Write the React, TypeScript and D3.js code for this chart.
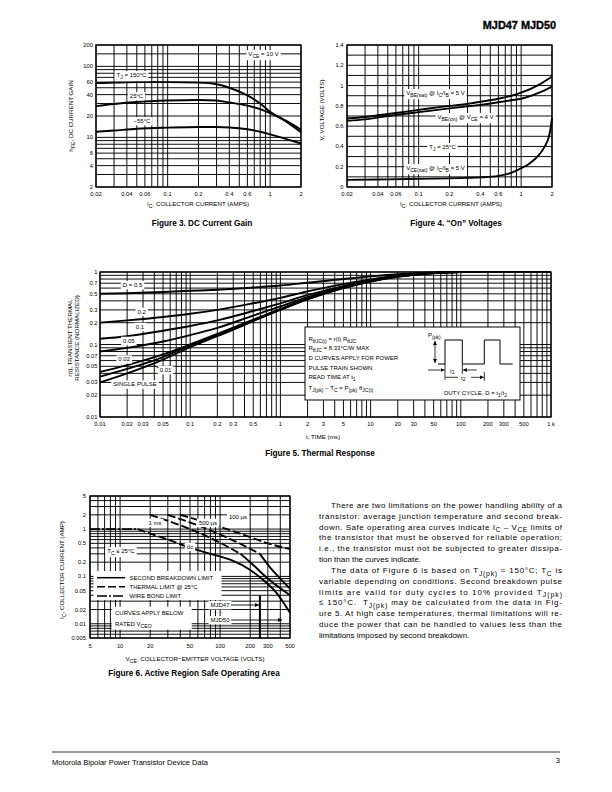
import React from 'react';
import * as d3 from 'd3';

const FONT = "'Liberation Sans', Arial, Helvetica, sans-serif";

// ---------- Figure 3: DC current gain ----------
const fig3Ic = [0.02, 0.03, 0.05, 0.1, 0.2, 0.3, 0.4, 0.6, 0.8, 1, 1.5, 2];
const fig3Gain150 = [58, 59, 60, 60, 59, 56, 50, 39, 30, 23, 16, 11.8];
const fig3Gain25 = [27.6, 29.5, 31.5, 33, 33.6, 33, 31, 28, 25, 22, 16.5, 12.8];
const fig3GainM55 = [12, 12.5, 13.2, 13.7, 14, 14, 13.8, 13, 12, 11, 9.3, 8.2];
const fig3XTicks = [0.02, 0.04, 0.06, 0.1, 0.2, 0.4, 0.6, 1, 2];
const fig3YTicks = [2, 4, 6, 10, 20, 40, 60, 100, 200];

// ---------- Figure 4: "On" voltages ----------
const fig4Ic = [0.02, 0.03, 0.05, 0.1, 0.2, 0.3, 0.4, 0.6, 0.8, 1, 1.5, 2];
const fig4VbeSat = [0.675, 0.69, 0.72, 0.76, 0.8, 0.82, 0.84, 0.87, 0.9, 0.93, 1.01, 1.09];
const fig4VbeOn = [0.652, 0.667, 0.7, 0.738, 0.775, 0.795, 0.81, 0.835, 0.855, 0.87, 0.93, 0.99];
const fig4IcSat = [0.02, 0.05, 0.1, 0.2, 0.3, 0.4, 0.6, 0.8, 1, 1.2, 1.5, 1.7, 1.9, 2];
const fig4VceSat = [0.07, 0.075, 0.08, 0.085, 0.09, 0.095, 0.11, 0.14, 0.185, 0.23, 0.32, 0.4, 0.53, 0.68];
const fig4XTicks = [0.02, 0.04, 0.06, 0.1, 0.2, 0.4, 0.6, 1, 2];
const fig4YTicks = [0, 0.2, 0.4, 0.6, 0.8, 1, 1.2, 1.4];
const fig4YGrid = [0, 0.1, 0.2, 0.3, 0.4, 0.5, 0.6, 0.7, 0.8, 0.9, 1, 1.1, 1.2, 1.3, 1.4];

// ---------- Figure 5: thermal response ----------
const fig5Time = [0.01, 0.02, 0.05, 0.1, 0.2, 0.5, 1, 2, 5, 10, 20, 50, 100, 1000];
const fig5D05 = [0.5, 0.51, 0.53, 0.55, 0.57, 0.61, 0.65, 0.71, 0.8, 0.87, 0.93, 0.985, 1, 1];
const fig5D02 = [0.2, 0.215, 0.24, 0.265, 0.3, 0.37, 0.44, 0.54, 0.68, 0.79, 0.89, 0.975, 1, 1];
const fig5D01 = [0.12, 0.13, 0.155, 0.18, 0.215, 0.29, 0.37, 0.48, 0.64, 0.77, 0.875, 0.97, 1, 1];
const fig5D005 = [0.08, 0.09, 0.11, 0.135, 0.17, 0.25, 0.335, 0.45, 0.62, 0.755, 0.87, 0.97, 1, 1];
const fig5D002 = [0.042, 0.052, 0.073, 0.1, 0.14, 0.22, 0.31, 0.43, 0.61, 0.75, 0.87, 0.97, 1, 1];
const fig5D001 = [0.036, 0.046, 0.067, 0.097, 0.135, 0.215, 0.305, 0.425, 0.605, 0.745, 0.865, 0.97, 1, 1];
const fig5Single = [0.03, 0.04, 0.062, 0.092, 0.13, 0.21, 0.3, 0.42, 0.6, 0.74, 0.86, 0.97, 1, 1];
const fig5XTicks = [0.01, 0.02, 0.03, 0.05, 0.1, 0.2, 0.3, 0.5, 1, 2, 3, 5, 10, 20, 30, 50, 100, 200, 300, 500, 1000];
const fig5YTicks = [0.01, 0.02, 0.03, 0.05, 0.07, 0.1, 0.2, 0.3, 0.5, 0.7, 1];

// ---------- Figure 6: safe operating area ----------
const fig6WireV = [5, 15];
const fig6WireI = [1.0, 1.0];
const fig6DcThermV = [15, 20, 30, 50];
const fig6DcThermI = [1.0, 0.8, 0.6, 0.4];
const fig6DcSecV = [50, 80, 130, 200, 270, 370, 500];
const fig6DcSecI = [0.4, 0.3, 0.22, 0.137, 0.084, 0.044, 0.017];
const fig6Ms1ThermV = [20, 40, 80, 160];
const fig6Ms1ThermI = [2, 1.2, 0.65, 0.3];
const fig6Ms1SecV = [160, 200, 300, 500];
const fig6Ms1SecI = [0.3, 0.2, 0.09, 0.04];
const fig6Us500ThermV = [30, 60, 120, 250];
const fig6Us500ThermI = [2, 1.2, 0.65, 0.3];
const fig6Us500SecV = [250, 320, 400, 500];
const fig6Us500SecI = [0.3, 0.15, 0.09, 0.055];
const fig6Us100V = [40, 80, 160, 300, 500];
const fig6Us100I = [2, 1.3, 0.8, 0.5, 0.38];
const fig6XTicks = [5, 10, 20, 50, 100, 200, 300, 500];
const fig6YTicks = [0.005, 0.01, 0.02, 0.05, 0.1, 0.2, 0.5, 1, 2, 5];

// ---------- helpers ----------
type Part = string | [string, 'sub' | 'sup'];
const SUBSCALE = 0.85;
let _ctx: CanvasRenderingContext2D | null = null;
function measure(parts: Part[], size: number, weight: string | number = 400): number {
  if (!_ctx) _ctx = document.createElement('canvas').getContext('2d');
  let w = 0;
  for (const p of parts) {
    const s = typeof p === 'string' ? p : p[0];
    const fs = typeof p === 'string' ? size : size * SUBSCALE;
    _ctx!.font = `${weight} ${fs}px 'Liberation Sans', Arial`;
    w += _ctx!.measureText(s).width;
  }
  return w;
}

function Rich({ x, y, parts, size = 6, anchor = 'start', weight = 400, transform, textLength }: any) {
  let cur = 0;
  const kids = (parts as Part[]).map((p, i) => {
    const isStr = typeof p === 'string';
    const txt = isStr ? (p as string) : (p as any)[0];
    const target = isStr ? 0 : ((p as any)[1] === 'sub' ? size * 0.32 : -size * 0.4);
    const dy = target - cur;
    cur = target;
    return (
      <tspan key={i} dy={dy} fontSize={isStr ? size : size * SUBSCALE}>
        {txt}
      </tspan>
    );
  });
  return (
    <text
      x={x}
      y={y}
      textAnchor={anchor}
      fontWeight={weight}
      fontSize={size}
      transform={transform}
      textLength={textLength}
      lengthAdjust={textLength ? 'spacing' : undefined}
      style={{ whiteSpace: 'pre' }}
      fill="#000"
    >
      {kids}
    </text>
  );
}

function LabelBox({ cx, y, parts, size = 6, padX = 2, padY = 1.2 }: any) {
  const w = measure(parts, size);
  const hasSub = (parts as Part[]).some((p) => typeof p !== 'string' && p[1] === 'sub');
  const top = y - size * 0.8 - padY;
  const bottom = y + (hasSub ? size * 0.5 : size * 0.2) + padY;
  return (
    <g>
      <rect x={cx - w / 2 - padX} y={top} width={w + 2 * padX} height={bottom - top} fill="#fff" />
      <Rich x={cx} y={y} parts={parts} size={size} anchor="middle" />
    </g>
  );
}

function Grid({ xs, ys, xGrid, yGrid }: any) {
  const [x0, x1] = xs.range();
  const [yb, yt] = ys.range();
  return (
    <g>
      {xGrid.map((v: number, i: number) => (
        <line key={'x' + i} x1={xs(v)} x2={xs(v)} y1={yt} y2={yb} stroke="#000" strokeWidth={0.95} />
      ))}
      {yGrid.map((v: number, i: number) => (
        <line key={'y' + i} x1={x0} x2={x1} y1={ys(v)} y2={ys(v)} stroke="#000" strokeWidth={0.95} />
      ))}
      <rect x={x0} y={yt} width={x1 - x0} height={yb - yt} fill="none" stroke="#000" strokeWidth={1.3} />
    </g>
  );
}

function TickLabels({ xs, ys, xTicks, yTicks, xFmt, yFmt, yOff = 3, xOff = 9, size = 5.8 }: any) {
  const [x0] = xs.range();
  const [yb] = ys.range();
  return (
    <g fontSize={size} fill="#000">
      {xTicks.map((v: number, i: number) => (
        <text key={'xt' + i} x={xs(v)} y={yb + xOff} textAnchor="middle">
          {xFmt(v)}
        </text>
      ))}
      {yTicks.map((v: number, i: number) => (
        <text key={'yt' + i} x={x0 - yOff} y={ys(v) + 2} textAnchor="end">
          {yFmt(v)}
        </text>
      ))}
    </g>
  );
}

function Curve({ xs, ys, xv, yv, width = 1.9, dash }: any) {
  const pts: [number, number][] = xv.map((v: number, i: number) => [xs(v), ys(yv[i])]);
  const gen = d3.line().curve(d3.curveMonotoneX);
  return <path d={gen(pts) || ''} fill="none" stroke="#000" strokeWidth={width} strokeDasharray={dash} strokeLinejoin="round" />;
}

const fmt = (v: number) => String(v);

// ---------- scales ----------
const xs3 = d3.scaleLog().domain([0.02, 2]).range([96, 301]);
const ys3 = d3.scaleLog().domain([2, 200]).range([187, 45]);
const xs4 = d3.scaleLog().domain([0.02, 2]).range([347, 552]);
const ys4 = d3.scaleLinear().domain([0, 1.4]).range([187, 45]);
const xs5 = d3.scaleLog().domain([0.01, 1000]).range([100, 551]);
const ys5 = d3.scaleLog().domain([0.01, 1]).range([417, 272]);
const xs6 = d3.scaleLog().domain([5, 500]).range([90, 290]);
const ys6 = d3.scaleLog().domain([0.005, 5]).range([638, 496]);

const paragraph: { parts: Part[]; indent: boolean; justify: boolean }[] = [
  { parts: ['There are two limitations on the power handling ability of a'], indent: true, justify: true },
  { parts: ['transistor: average junction temperature and second break-'], indent: false, justify: true },
  { parts: ['down. Safe operating area curves indicate I', ['C', 'sub'], ' – V', ['CE', 'sub'], ' limits of'], indent: false, justify: true },
  { parts: ['the transistor that must be observed for reliable operation;'], indent: false, justify: true },
  { parts: ['i.e., the transistor must not be subjected to greater dissipa-'], indent: false, justify: true },
  { parts: ['tion than the curves indicate.'], indent: false, justify: false },
  { parts: ['The data of Figure 6 is based on T', ['J(pk)', 'sub'], ' = 150°C; T', ['C', 'sub'], ' is'], indent: true, justify: true },
  { parts: ['variable depending on conditions. Second breakdown pulse'], indent: false, justify: true },
  { parts: ['limits are valid for duty cycles to 10% provided T', ['J(pk)', 'sub']], indent: false, justify: true },
  { parts: ['≤ 150°C.  T', ['J(pk)', 'sub'], ' may be calculated from the data in Fig-'], indent: false, justify: true },
  { parts: ['ure 5. At high case temperatures, thermal limitations will re-'], indent: false, justify: true },
  { parts: ['duce the power that can be handled to values less than the'], indent: false, justify: true },
  { parts: ['limitations imposed by second breakdown.'], indent: false, justify: false },
];

export default function App() {
  const fig5Series = [fig5D05, fig5D02, fig5D01, fig5D005, fig5D002, fig5D001, fig5Single];
  const pL = 319, pR = 562, pInd = 331;
  return (
    <div style={{ position: 'absolute', left: 0, top: 0, width: 612, height: 792, background: '#fff' }}>
      <svg width={612} height={792} viewBox="0 0 612 792" style={{ display: 'block', fontFamily: FONT }}>
        <defs>
          <marker id="arr" viewBox="0 0 10 10" refX="10" refY="5" markerUnits="userSpaceOnUse" markerWidth="4" markerHeight="4" orient="auto-start-reverse">
            <path d="M0,0 L10,5 L0,10 z" fill="#000" />
          </marker>
        </defs>
        <rect width={612} height={792} fill="#fff" />

        {/* header */}
        <text x={556} y={29} textAnchor="end" fontSize={10.9} fontWeight={900} stroke="#000" strokeWidth={0.35}>MJD47 MJD50</text>

        {/* ===== Figure 3 ===== */}
        <Grid xs={xs3} ys={ys3} xGrid={xs3.ticks()} yGrid={[...ys3.ticks(), 150]} />
        <TickLabels xs={xs3} ys={ys3} xTicks={fig3XTicks} yTicks={fig3YTicks} xFmt={fmt} yFmt={fmt} />
        <Curve xs={xs3} ys={ys3} xv={fig3Ic} yv={fig3Gain150} />
        <Curve xs={xs3} ys={ys3} xv={fig3Ic} yv={fig3Gain25} />
        <Curve xs={xs3} ys={ys3} xv={fig3Ic} yv={fig3GainM55} />
        <LabelBox cx={263.5} y={56} parts={['V', ['CE', 'sub'], ' = 10 V']} />
        <LabelBox cx={131.5} y={77} parts={['T', ['J', 'sub'], ' = 150°C']} />
        <LabelBox cx={136.5} y={98} parts={['25°C']} />
        <LabelBox cx={142} y={123} parts={['−55°C']} />
        <Rich x={0} y={0} transform="translate(73,116) rotate(-90)" anchor="middle" size={6.2} parts={['h', ['FE', 'sub'], ', DC CURRENT GAIN']} />
        <Rich x={198} y={206} anchor="middle" size={6.2} parts={['I', ['C', 'sub'], ', COLLECTOR CURRENT (AMPS)']} />
        <text x={202} y={226} textAnchor="middle" fontSize={8.2} fontWeight={700}>Figure 3. DC Current Gain</text>

        {/* ===== Figure 4 ===== */}
        <Grid xs={xs4} ys={ys4} xGrid={xs4.ticks()} yGrid={fig4YGrid} />
        <TickLabels xs={xs4} ys={ys4} xTicks={fig4XTicks} yTicks={fig4YTicks} xFmt={fmt} yFmt={fmt} yOff={3.5} />
        <Curve xs={xs4} ys={ys4} xv={fig4Ic} yv={fig4VbeSat} />
        <Curve xs={xs4} ys={ys4} xv={fig4Ic} yv={fig4VbeOn} />
        <Curve xs={xs4} ys={ys4} xv={fig4IcSat} yv={fig4VceSat} />
        <LabelBox cx={435.5} y={95} parts={['V', ['BE(sat)', 'sub'], ' @ I', ['C', 'sub'], '/I', ['B', 'sub'], ' = 5 V']} />
        <LabelBox cx={465.5} y={119} parts={['V', ['BE(on)', 'sub'], ' @ V', ['CE', 'sub'], ' = 4 V']} />
        <LabelBox cx={442.5} y={149} parts={['T', ['J', 'sub'], ' = 25°C']} />
        <LabelBox cx={435.5} y={170} parts={['V', ['CE(sat)', 'sub'], ' @ I', ['C', 'sub'], '/I', ['B', 'sub'], ' = 5 V']} />
        <Rich x={0} y={0} transform="translate(324,110) rotate(-90)" anchor="middle" size={6.2} parts={['V, VOLTAGE (VOLTS)']} />
        <Rich x={451} y={206} anchor="middle" size={6.2} parts={['I', ['C', 'sub'], ', COLLECTOR CURRENT (AMPS)']} />
        <text x={456} y={226} textAnchor="middle" fontSize={8.2} fontWeight={700}>Figure 4. “On” Voltages</text>

        {/* ===== Figure 5 ===== */}
        <Grid xs={xs5} ys={ys5} xGrid={xs5.ticks()} yGrid={ys5.ticks()} />
        <TickLabels xs={xs5} ys={ys5} xTicks={fig5XTicks} yTicks={fig5YTicks} xFmt={(v: number) => (v === 1000 ? '1 k' : String(v))} yFmt={fmt} yOff={2.5} xOff={8.5} />
        {fig5Series.map((s, i) => (
          <Curve key={i} xs={xs5} ys={ys5} xv={fig5Time} yv={s} />
        ))}
        <LabelBox cx={132.5} y={287} parts={['D = 0.5']} />
        <LabelBox cx={141.7} y={313.7} parts={['0.2']} />
        <LabelBox cx={140} y={328.7} parts={['0.1']} />
        <LabelBox cx={128.8} y={342.7} parts={['0.05']} />
        <LabelBox cx={124.2} y={361.3} parts={['0.02']} />
        <LabelBox cx={165.5} y={372} parts={['0.01']} />
        <line x1={159} y1={368} x2={153} y2={365} stroke="#000" strokeWidth={0.8} />
        <LabelBox cx={135} y={386.3} parts={['SINGLE PULSE']} />
        {/* info box */}
        <rect x={305} y={327} width={215} height={73} fill="#fff" stroke="#000" strokeWidth={1} />
        <Rich x={308.5} y={341} size={6} parts={['R', ['θJC(t)', 'sub'], ' = r(t) R', ['θJC', 'sub']]} />
        <Rich x={308.5} y={349.7} size={6} parts={['R', ['θJC', 'sub'], ' = 8.33°C/W MAX']} />
        <Rich x={308.5} y={360.3} size={6} parts={['D CURVES APPLY FOR POWER']} />
        <Rich x={308.5} y={369.7} size={6} parts={['PULSE TRAIN SHOWN']} />
        <Rich x={308.5} y={379.3} size={6} parts={['READ TIME AT t', ['1', 'sub']]} />
        <Rich x={308.5} y={390.3} size={6} parts={['T', ['J(pk)', 'sub'], ' − T', ['C', 'sub'], ' = P', ['(pk)', 'sub'], ' θ', ['JC(t)', 'sub']]} />
        <Rich x={428} y={337} size={6} parts={['P', ['(pk)', 'sub']]} />
        <path d="M438,364 H445 V340 H462.3 V364 H484.3 V340 H500 V364 H512.7" fill="none" stroke="#000" strokeWidth={1} />
        <line x1={435} y1={341} x2={435} y2={363} stroke="#000" strokeWidth={0.8} markerStart="url(#arr)" markerEnd="url(#arr)" />
        <line x1={428} y1={370} x2={444.5} y2={370} stroke="#000" strokeWidth={0.8} markerEnd="url(#arr)" />
        <line x1={476.7} y1={370} x2={462.8} y2={370} stroke="#000" strokeWidth={0.8} markerEnd="url(#arr)" />
        <line x1={445} y1={364} x2={445} y2={380} stroke="#000" strokeWidth={0.8} />
        <line x1={462.3} y1={364} x2={462.3} y2={374} stroke="#000" strokeWidth={0.8} />
        <line x1={484.3} y1={372} x2={484.3} y2={381} stroke="#000" strokeWidth={0.8} />
        <Rich x={450} y={372.5} size={6} parts={['t', ['1', 'sub']]} />
        <line x1={445.5} y1={377.3} x2={458} y2={377.3} stroke="#000" strokeWidth={0.8} />
        <line x1={471} y1={377.3} x2={483.8} y2={377.3} stroke="#000" strokeWidth={0.8} markerEnd="url(#arr)" />
        <Rich x={461} y={379.5} size={6} parts={['t', ['2', 'sub']]} />
        <Rich x={475.5} y={395} size={6} anchor="middle" parts={['DUTY CYCLE, D = t', ['1', 'sub'], '/t', ['2', 'sub']]} />
        <Rich x={0} y={0} transform="translate(72,338) rotate(-90)" anchor="middle" size={6.2} parts={['r(t), TRANSIENT THERMAL']} />
        <Rich x={0} y={0} transform="translate(79,338) rotate(-90)" anchor="middle" size={6.2} parts={['RESISTANCE (NORMALIZED)']} />
        <Rich x={323} y={439} anchor="middle" size={6.2} parts={['t, TIME (ms)']} />
        <text x={320} y={456} textAnchor="middle" fontSize={8.2} fontWeight={700}>Figure 5. Thermal Response</text>

        {/* ===== Figure 6 ===== */}
        <Grid xs={xs6} ys={ys6} xGrid={xs6.ticks()} yGrid={ys6.ticks()} />
        <TickLabels xs={xs6} ys={ys6} xTicks={fig6XTicks} yTicks={fig6YTicks} xFmt={fmt} yFmt={fmt} yOff={4} xOff={10} />
        <Curve xs={xs6} ys={ys6} xv={fig6WireV} yv={fig6WireI} dash="10 2 2 2" />
        <Curve xs={xs6} ys={ys6} xv={fig6DcThermV} yv={fig6DcThermI} dash="8 3" />
        <Curve xs={xs6} ys={ys6} xv={fig6DcSecV} yv={fig6DcSecI} />
        <Curve xs={xs6} ys={ys6} xv={fig6Ms1ThermV} yv={fig6Ms1ThermI} dash="8 3" />
        <Curve xs={xs6} ys={ys6} xv={fig6Ms1SecV} yv={fig6Ms1SecI} />
        <Curve xs={xs6} ys={ys6} xv={fig6Us500ThermV} yv={fig6Us500ThermI} dash="8 3" />
        <Curve xs={xs6} ys={ys6} xv={fig6Us500SecV} yv={fig6Us500SecI} />
        <Curve xs={xs6} ys={ys6} xv={fig6Us100V} yv={fig6Us100I} dash="8 3" />
        <line x1={xs6(250)} x2={xs6(250)} y1={ys6(0.04)} y2={ys6(0.005)} stroke="#000" strokeWidth={2} />
        <LabelBox cx={155} y={524.7} parts={['1 ms']} />
        <LabelBox cx={208} y={524.7} parts={['500 µs']} />
        <LabelBox cx={238} y={518.7} parts={['100 µs']} />
        <LabelBox cx={190} y={548.7} parts={['dc']} />
        <LabelBox cx={121} y={553} parts={['T', ['C', 'sub'], ' ≤ 25°C']} />
        {/* legend */}
        <rect x={93.5} y={571} width={128} height={29} fill="#fff" />
        <line x1={97} x2={125} y1={577.7} y2={577.7} stroke="#000" strokeWidth={1.5} />
        <line x1={97} x2={125} y1={586.7} y2={586.7} stroke="#000" strokeWidth={1.5} strokeDasharray="8 3" />
        <line x1={97} x2={125} y1={596} y2={596} stroke="#000" strokeWidth={1.5} strokeDasharray="10 2 2 2" />
        <text x={129.5} y={579.8} fontSize={6}>SECOND BREAKDOWN LIMIT</text>
        <text x={129.5} y={588.8} fontSize={6}>THERMAL LIMIT @ 25°C</text>
        <text x={129.5} y={598} fontSize={6}>WIRE BOND LIMIT</text>
        <rect x={111.7} y={606.7} width={80} height={23} fill="#fff" />
        <Rich x={115} y={615} size={6} parts={['CURVES APPLY BELOW']} />
        <Rich x={115} y={626} size={6} parts={['RATED V', ['CEO', 'sub']]} />
        <LabelBox cx={220} y={607} parts={['MJD47']} />
        <LabelBox cx={220} y={622} parts={['MJD50']} />
        <text x={216} y={614} fontSize={6} textAnchor="middle">· · · ·</text>
        <line x1={231} x2={259} y1={605} y2={605} stroke="#000" strokeWidth={0.9} markerEnd="url(#arr)" />
        <line x1={231} x2={282} y1={620} y2={620} stroke="#000" strokeWidth={0.9} markerEnd="url(#arr)" />
        <Rich x={0} y={0} transform="translate(64,570) rotate(-90)" anchor="middle" size={6.2} parts={['I', ['C', 'sub'], ', COLLECTOR CURRENT (AMP)']} />
        <Rich x={195} y={661} anchor="middle" size={6.2} parts={['V', ['CE', 'sub'], ', COLLECTOR−EMITTER VOLTAGE (VOLTS)']} />
        <text x={194} y={676} textAnchor="middle" fontSize={8.2} fontWeight={700}>Figure 6. Active Region Safe Operating Area</text>

        {/* paragraph */}
        {paragraph.map((ln, i) => {
          const x = ln.indent ? pInd : pL;
          return (
            <Rich key={i} x={x} y={508 + i * 10.83} size={8} parts={ln.parts} textLength={ln.justify ? pR - x : undefined} />
          );
        })}

        {/* footer */}
        <line x1={52} x2={560} y1={752} y2={752} stroke="#000" strokeWidth={0.8} />
        <text x={52} y={765} fontSize={7.5}>Motorola Bipolar Power Transistor Device Data</text>
        <text x={560} y={763} fontSize={7.5} textAnchor="end">3</text>
      </svg>
    </div>
  );
}
